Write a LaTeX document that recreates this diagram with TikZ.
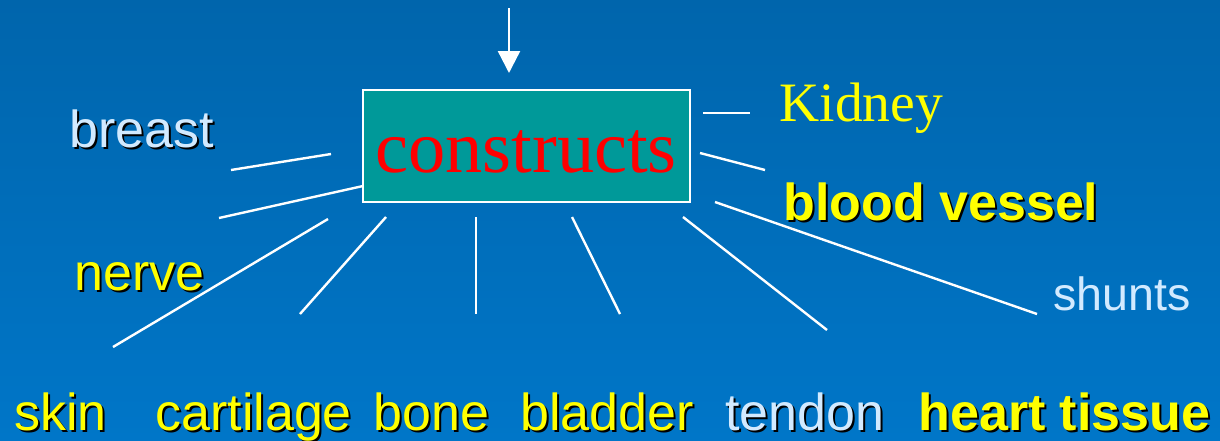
\documentclass[tikz,border=0pt]{standalone}
\usepackage{fontspec}
\setmainfont{Liberation Serif}
\setsansfont{Liberation Sans}
\usetikzlibrary{arrows.meta}
\definecolor{bgtop}{RGB}{0,101,172}
\definecolor{bgbot}{RGB}{0,118,200}
\definecolor{teal}{RGB}{0,153,153}
\definecolor{ylw}{RGB}{255,255,0}
\definecolor{ltb}{RGB}{210,234,255}
\definecolor{txtred}{RGB}{255,0,0}
\newcommand{\shtxt}[2]{\makebox[0pt][l]{\hspace{1pt}\raisebox{-1pt}{\color{black}#2}}\textcolor{#1}{#2}}
\tikzset{
  ray/.style={draw=white,line width=1.2pt},
  lbl/.style={anchor=base west,inner sep=0pt,font=\sffamily\fontsize{26}{30}\selectfont},
}
\begin{document}
\begin{tikzpicture}[x=0.5pt,y=-0.5pt]
\useasboundingbox (0,0) rectangle (1220,440);
\shade[top color=bgtop,bottom color=bgbot] (0,0) rectangle (1220,440);
% central box
\node[draw=white,line width=1pt,fill=teal,minimum width=163.5pt,minimum height=56pt,inner sep=0pt] (box) at (526.5,146) {};
\node[anchor=base,inner sep=0pt,font=\fontsize{37.2}{40}\selectfont,text=txtred] (ctext) at (526,172) {constructs};
% arrow from top
\coordinate (atop) at (509,8);
\coordinate (abot) at (509,73);
\draw[draw=white,line width=1.2pt,-{Triangle[width=11pt,length=11pt,fill=white]}] (atop) -- (abot);
% rays
\coordinate (kA) at (703,113); \coordinate (kB) at (750,113);
\coordinate (bvA) at (700,153); \coordinate (bvB) at (765,170);
\coordinate (shA) at (715,202); \coordinate (shB) at (1037,314);
\coordinate (htA) at (683,217); \coordinate (htB) at (827,330);
\coordinate (blA) at (572,217); \coordinate (blB) at (620,314);
\coordinate (boA) at (476,217); \coordinate (boB) at (476,314);
\coordinate (caA) at (386,217); \coordinate (caB) at (300,314);
\coordinate (skA) at (328,219); \coordinate (skB) at (113,347);
\coordinate (neA) at (363,186); \coordinate (neB) at (219,218);
\coordinate (brA) at (331,154); \coordinate (brB) at (231,170);
\foreach \p in {k,bv,sh,ht,bl,bo,ca,sk,ne,br} {\draw[ray] (\p A) -- (\p B);}
% labels
\node[anchor=base west,inner sep=0pt,font=\fontsize{27.8}{30}\selectfont,text=ylw] (kid) at (779,121) {Kidney};
\node[lbl,font=\sffamily\bfseries\fontsize{26}{30}\selectfont] (bv) at (783,220) {\shtxt{ylw}{blood vessel}};
\node[anchor=base west,inner sep=0pt,font=\sffamily\fontsize{23.3}{26}\selectfont,text=ltb] (sh) at (1053,310) {shunts};
\node[lbl] (br) at (69,147) {\shtxt{ltb}{breast}};
\node[lbl] (ne) at (74,290) {\shtxt{ylw}{nerve}};
\node[lbl] (sk) at (14,430) {\shtxt{ylw}{skin}};
\node[lbl] (ca) at (155,430) {\shtxt{ylw}{cartilage}};
\node[lbl] (bo) at (373,430) {\shtxt{ylw}{bone}};
\node[lbl] (bl) at (520,430) {\shtxt{ylw}{bladder}};
\node[lbl] (te) at (725,430) {\shtxt{ltb}{tendon}};
\node[lbl,font=\sffamily\bfseries\fontsize{26}{30}\selectfont] (ht) at (918,430) {\shtxt{ylw}{heart tissue}};
\end{tikzpicture}
\end{document}
